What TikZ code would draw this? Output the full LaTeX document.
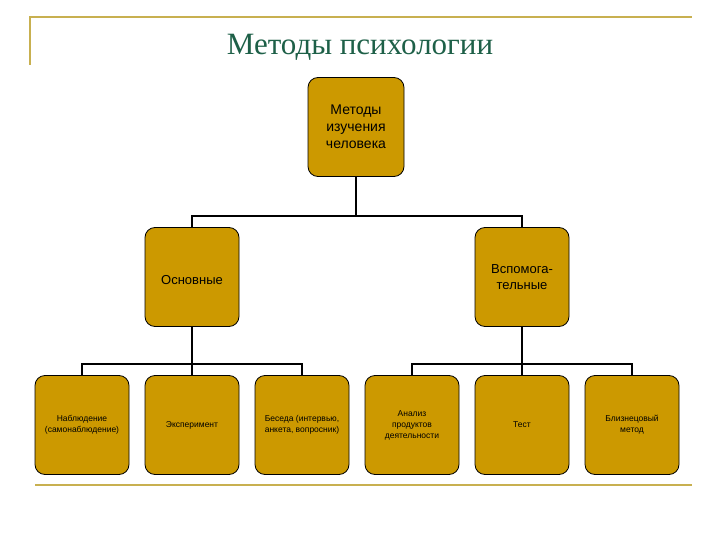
\documentclass[tikz,border=0pt]{standalone}
\usepackage{fontspec}
\setmainfont{Liberation Sans}
\newfontfamily\serifT{Liberation Serif}
\definecolor{boxfill}{HTML}{CC9900}
\definecolor{titlec}{HTML}{1E6048}
\definecolor{rule}{HTML}{C8B050}
\begin{document}
\begin{tikzpicture}[x=1pt,y=-1pt,
  box/.style={draw=black,line width=0.8pt,fill=boxfill,rounded corners=10pt,minimum width=94pt,minimum height=99pt,align=center,inner sep=1pt},
  conn/.style={line width=2pt,black}]
\useasboundingbox[fill=white] (0,0) rectangle (720,540);
\draw[rule,line width=2pt] (30,65) -- (30,17) -- (692,17);
\draw[rule,line width=2.5pt] (35,485) -- (692,485);
\node[font=\serifT\fontsize{31}{31}\selectfont,text=titlec] (title) at (360,47) {Методы психологии};
\node[box,font=\fontsize{14}{17}\selectfont,minimum width=96pt] (top) at (356,127) {Методы\\изучения\\человека};
\node[box,font=\fontsize{13}{16}\selectfont] (osn) at (192,277) {\\Основные};
\node[box,font=\fontsize{13}{16}\selectfont] (vsp) at (522,277) {Вспомога-\\тельные};
\begin{scope}[every node/.append style={font=\fontsize{8.5}{11}\selectfont}]
\node[box] (b1) at (82,425) {Наблюдение\\(самонаблюдение)};
\node[box] (b2) at (192,425) {Эксперимент};
\node[box] (b3) at (302,425) {Беседа (интервью,\\анкета, вопросник)};
\node[box] (b4) at (412,425) {Анализ\\продуктов\\деятельности};
\node[box] (b5) at (522,425) {Тест};
\node[box] (b6) at (632,425) {Близнецовый\\метод};
\end{scope}
\coordinate (j1) at (356,216);
\draw[conn] (top.south) -- (j1);
\draw[conn] (osn.north) |- (j1) -| (vsp.north);
\coordinate (j2) at (192,364);
\coordinate (j3) at (522,364);
\draw[conn] (osn.south) -- (j2);
\draw[conn] (b1.north) |- (j2) -| (b3.north);
\draw[conn] (j2) -- (b2.north);
\draw[conn] (vsp.south) -- (j3);
\draw[conn] (b4.north) |- (j3) -| (b6.north);
\draw[conn] (j3) -- (b5.north);
\end{tikzpicture}
\end{document}
